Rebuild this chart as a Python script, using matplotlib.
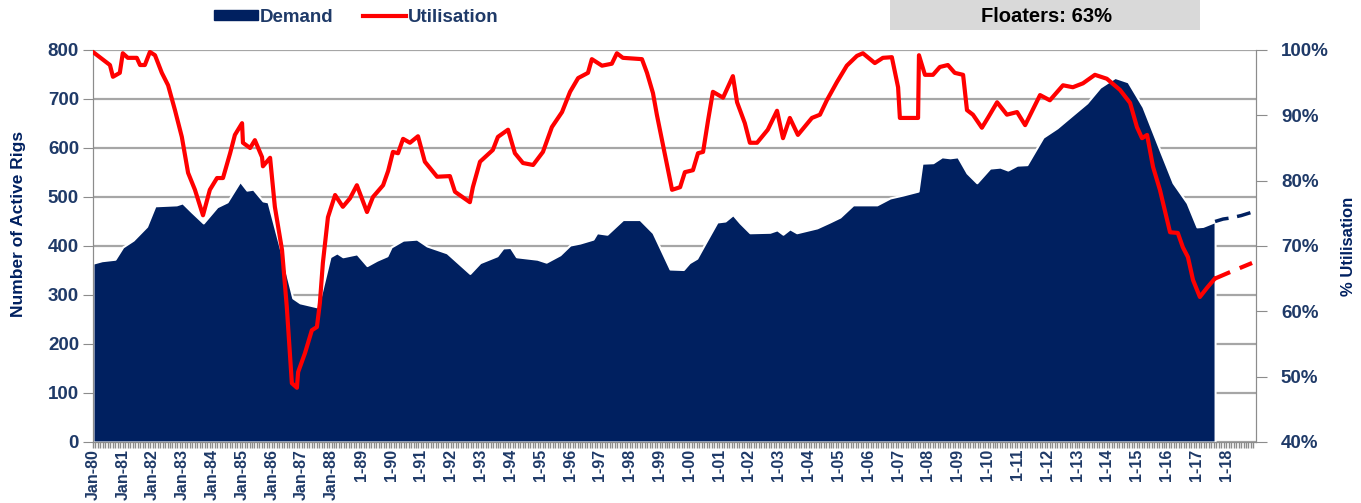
import matplotlib
matplotlib.use("Agg")
import matplotlib.pyplot as plt
from matplotlib.patches import Patch, Rectangle
from matplotlib.lines import Line2D
import numpy as np

# demand (number of active rigs), decimal year -> rigs
demand_t = [1980.0, 1980.3, 1980.74, 1981.0, 1981.35, 1981.8, 1982.08, 1982.8, 1983.0, 1983.3,
            1983.7, 1984.16, 1984.5, 1984.93, 1985.16, 1985.37, 1985.7, 1985.87, 1986.27, 1986.7,
            1986.94, 1987.5, 1987.6, 1987.95, 1988.18, 1988.38, 1988.85, 1989.19, 1989.52, 1989.86,
            1990.0, 1990.4, 1990.86, 1991.2, 1991.87, 1992.64, 1992.98, 1993.55, 1993.75, 1994.0,
            1994.2, 1994.9, 1995.2, 1995.66, 1996.0, 1996.33, 1996.77, 1996.9, 1997.24, 1997.77,
            1998.34, 1998.78, 1999.35, 1999.8, 2000.0, 2000.25, 2000.46, 2000.93, 2001.2, 2001.46,
            2001.7, 2002.03, 2002.7, 2002.94, 2003.14, 2003.37, 2003.6, 2004.28, 2004.71, 2005.05,
            2005.49, 2006.29, 2006.73, 2007.16, 2007.67, 2007.8, 2008.17, 2008.47, 2008.74, 2009.0,
            2009.31, 2009.64, 2010.08, 2010.42, 2010.68, 2010.99, 2011.32, 2011.86, 2012.33, 2012.76,
            2013.33, 2013.77, 2014.27, 2014.71, 2015.21, 2015.78, 2016.22, 2016.69, 2017.02, 2017.22,
            2017.63]
demand_v = [365, 370, 373, 398, 412, 440, 482, 484, 488, 470,
            447, 480, 490, 532, 514, 516, 492, 490, 398, 294,
            284, 276, 290, 378, 386, 378, 384, 360, 371, 380,
            398, 412, 414, 400, 386, 344, 366, 380, 396, 397,
            378, 373, 367, 382, 402, 406, 414, 427, 424, 454,
            454, 427, 353, 352, 366, 375, 398, 449, 451, 464,
            447, 427, 428, 433, 424, 435, 427, 437, 449, 459,
            484, 484, 498, 504, 512, 569, 570, 582, 580, 582,
            549, 529, 559, 561, 555, 565, 566, 622, 641, 663,
            692, 724, 744, 735, 684, 596, 529, 488, 439, 440,
            450]
demand_fc_t = [2017.63, 2017.9, 2018.13, 2018.5, 2018.87]
demand_fc_v = [450, 455, 457, 462, 469]

# utilisation (%)
util_t = [1980.0, 1980.34, 1980.57, 1980.67, 1980.9, 1981.0, 1981.17, 1981.47, 1981.58, 1981.74,
          1981.91, 1982.08, 1982.31, 1982.52, 1982.75, 1982.98, 1983.19, 1983.42, 1983.69, 1983.92,
          1984.16, 1984.36, 1984.6, 1984.76, 1985.0, 1985.03, 1985.27, 1985.43, 1985.67, 1985.7,
          1985.94, 1986.1, 1986.34, 1986.5, 1986.67, 1986.84, 1986.88, 1987.11, 1987.34, 1987.51,
          1987.61, 1987.71, 1987.88, 1988.12, 1988.38, 1988.62, 1988.85, 1989.19, 1989.39, 1989.73,
          1989.9, 1990.06, 1990.23, 1990.4, 1990.63, 1990.9, 1991.13, 1991.54, 1991.97, 1992.14,
          1992.64, 1992.74, 1992.98, 1993.41, 1993.58, 1993.92, 1994.15, 1994.42, 1994.76, 1995.09,
          1995.39, 1995.73, 1996.0, 1996.27, 1996.6, 1996.73, 1997.07, 1997.4, 1997.57, 1997.77,
          1998.41, 1998.58, 1998.78, 1998.91, 1999.42, 1999.69, 1999.85, 2000.12, 2000.29, 2000.46,
          2000.63, 2000.79, 2001.13, 2001.46, 2001.6, 2001.86, 2002.03, 2002.27, 2002.63, 2002.94,
          2003.14, 2003.37, 2003.64, 2004.11, 2004.38, 2004.61, 2004.95, 2005.28, 2005.62, 2005.82,
          2006.22, 2006.49, 2006.79, 2007.0, 2007.06, 2007.67, 2007.7, 2007.9, 2008.17, 2008.4,
          2008.67, 2008.9, 2009.18, 2009.31, 2009.51, 2009.81, 2010.01, 2010.32, 2010.65, 2010.99,
          2011.26, 2011.76, 2012.09, 2012.53, 2012.86, 2013.2, 2013.6, 2014.0, 2014.44, 2014.78,
          2015.01, 2015.18, 2015.35, 2015.55, 2015.78, 2016.12, 2016.38, 2016.55, 2016.72, 2016.89,
          2017.12, 2017.36, 2017.62]
util_v = [99.7, 98.5, 97.7, 95.9, 96.5, 99.5, 98.8, 98.8, 97.7, 97.7,
          99.7, 99.2, 96.5, 94.6, 90.8, 86.7, 81.2, 78.6, 74.7, 78.6,
          80.4, 80.4, 84.2, 87.0, 88.8, 85.8, 85.0, 86.2, 83.6, 82.2,
          83.5, 76.0, 69.4, 60.7, 49.0, 48.3, 50.7, 53.6, 57.1, 57.6,
          61.3, 67.4, 74.4, 77.8, 76.0, 77.3, 79.3, 75.2, 77.5, 79.3,
          81.5, 84.4, 84.2, 86.4, 85.8, 86.8, 82.9, 80.6, 80.7, 78.3,
          76.7, 79.0, 82.9, 84.7, 86.7, 87.8, 84.2, 82.7, 82.4, 84.4,
          88.2, 90.5, 93.6, 95.7, 96.5, 98.6, 97.6, 97.9, 99.5, 98.8,
          98.6, 96.5, 93.4, 90.1, 78.6, 79.0, 81.3, 81.6, 84.2, 84.4,
          89.3, 93.6, 92.7, 96.0, 92.0, 88.8, 85.8, 85.8, 87.8, 90.7,
          86.5, 89.6, 87.0, 89.6, 90.1, 92.3, 95.1, 97.6, 99.1, 99.5,
          98.0, 98.8, 98.9, 94.3, 89.6, 89.6, 99.2, 96.2, 96.2, 97.4,
          97.7, 96.5, 96.2, 90.8, 90.1, 88.1, 89.6, 92.0, 90.1, 90.5,
          88.5, 93.1, 92.3, 94.6, 94.3, 94.9, 96.2, 95.6, 93.9, 91.9,
          88.2, 86.5, 87.0, 82.1, 78.6, 72.1, 72.0, 69.8, 68.3, 64.8,
          62.2, 63.6, 65.0]
util_fc_t = [2017.62, 2018.13, 2018.87]
util_fc_v = [65.0, 66.0, 67.4]

years = list(range(1980, 2019))
year_labels = [("Jan-%02d" % (y % 100)) if y <= 1988 else ("1-%02d" % (y % 100)) for y in years]

navy = "#002060"
txt = "#1F3A68"
grey = "#8C8C8C"
narrow = ["Liberation Sans Narrow", "Liberation Sans", "DejaVu Sans"]
plt.rcParams["font.family"] = ["Liberation Sans", "DejaVu Sans"]

fig = plt.figure(figsize=(13.61, 5.03), dpi=100)
ax = fig.add_axes([0.0683, 0.1213, 0.8545, 0.7793])
ax2 = ax.twinx()

ax.set_axisbelow(True)
ax.yaxis.grid(True, color="#A6A6A6", linewidth=1.6)
ax.fill_between(demand_t, demand_v, 0, color=navy, edgecolor="white", linewidth=1.5, zorder=2)
ax.plot(demand_fc_t, demand_fc_v, color=navy, linewidth=2.5, dashes=(4, 2.5), zorder=3)

ax2.plot(util_t, util_v, color="#FF0000", linewidth=3, zorder=4)
ax2.plot(util_fc_t, util_fc_v, color="#FF0000", linewidth=3, dashes=(4, 2.5), zorder=4)

ax.set_xlim(1980, 2019)
ax.set_ylim(0, 800)
ax2.set_ylim(40, 100)
ax.set_yticks(np.arange(0, 801, 100))
ax2.set_yticks(np.arange(40, 101, 10))
ax2.set_yticklabels(["%d%%" % v for v in range(40, 101, 10)])

ax.set_xticks(years)
ax.set_xticklabels(year_labels, rotation=90, fontsize=11.5, fontweight="bold", color=txt)
ax.set_xticks(np.arange(1980, 2019, 1 / 12), minor=True)

for a in (ax, ax2):
    for s in a.spines.values():
        s.set_color(grey)
    a.spines["top"].set_visible(False)
ax.tick_params(axis="y", colors=grey, length=7, labelsize=13.5, labelcolor=txt, pad=3)
ax2.tick_params(axis="y", colors=grey, length=8, labelsize=13.5, labelcolor=txt, pad=10)
ax.tick_params(axis="x", which="both", colors=grey, length=4, width=1, labelcolor=txt, pad=1)
for lab in ax.get_yticklabels() + ax2.get_yticklabels():
    lab.set_fontweight("bold")

ax.set_ylabel("Number of Active Rigs", fontsize=12.5, fontweight="bold", color=navy, family=narrow)
ax.yaxis.set_label_coords(-0.058, 0.556)
ax2.set_ylabel("% Utilisation", fontsize=12, fontweight="bold", color=navy, family=narrow)
ax2.yaxis.set_label_coords(1.073, 0.50)

# legend
handles = [Patch(facecolor=navy, edgecolor=navy), Line2D([], [], color="#FF0000", linewidth=3)]
leg = fig.legend(handles, ["Demand", "Utilisation"], loc="center", bbox_to_anchor=(0.262, 0.966),
                 ncol=2, frameon=False, fontsize=13.5, handlelength=2.3, handleheight=0.5,
                 handletextpad=0.1, columnspacing=1.6)
for t in leg.get_texts():
    t.set_color(txt)
    t.set_fontweight("bold")

# annotation box at top
fig.patches.append(Rectangle((0.654, 0.94), 0.228, 0.08, transform=fig.transFigure,
                             facecolor="#D9D9D9", edgecolor="none"))
fig.text(0.7686, 0.968, "Floaters: 63%", ha="center", va="center", fontsize=14.5,
         fontweight="bold", color="black")

fig.savefig("out.png", dpi=100)
